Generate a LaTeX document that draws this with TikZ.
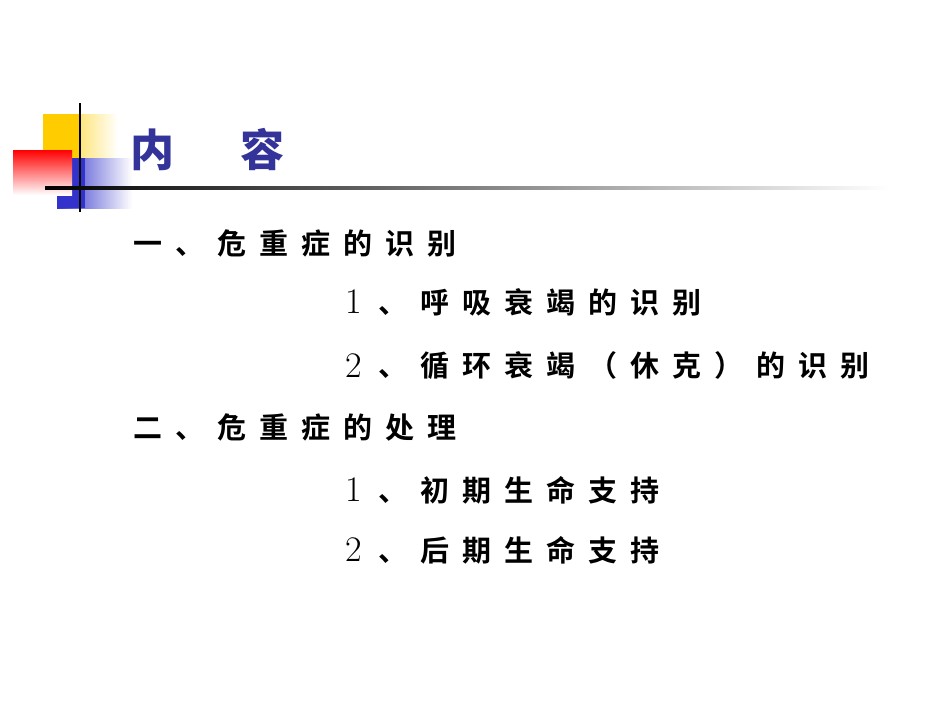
\documentclass[tikz,border=0pt]{standalone}
\usepackage{fontspec}
\newfontfamily\cjk[LetterSpace=45]{Noto Sans CJK SC Bold}
\newfontfamily\cjkb{Noto Sans CJK SC Black}
\definecolor{yel}{RGB}{255,204,0}
\definecolor{blu}{RGB}{51,51,204}
\definecolor{tit}{RGB}{51,51,153}
\begin{document}
\begin{tikzpicture}[x=1pt,y=-1pt,
  item/.style={anchor=west,inner sep=0pt,font=\cjk\fontsize{29}{29}\selectfont},
  num/.style={anchor=west,inner sep=0pt,font=\fontsize{36}{36}\selectfont}]
\useasboundingbox (0,0) rectangle (950,713);
\fill[white] (0,0) rectangle (950,713);
\shade[left color=yel,right color=white] (43,114) rectangle (118,160);
\fill[yel] (43,114) rectangle (80,160);
\shade[left color=blu,right color=white] (57,158) rectangle (132,208);
\fill[blu] (57,158) rectangle (85,208);
\shade[shading angle=45,top color=red,bottom color=white] (13,150) rectangle (72,195);
\draw[line width=2.5pt] (80,103) -- (80,212);
\shade[left color=black,right color=white] (45,186) rectangle (890,189);
\node[anchor=west,inner sep=0pt,text=tit,font=\cjkb\fontsize{44}{44}\selectfont] (t) at (130,150) {内\hspace{1.5em}容};
\node[item] (a) at (133,243) {一、危重症的识别};
\node[num] (a1n) at (345,302) {1};
\node[item] (a1) at (378,302) {、呼吸衰竭的识别};
\node[num] (a2n) at (345,366) {2};
\node[item] (a2) at (378,366) {、循环衰竭（休克）的识别};
\node[item] (b) at (133,427) {二、危重症的处理};
\node[num] (b1n) at (345,490) {1};
\node[item] (b1) at (378,490) {、初期生命支持};
\node[num] (b2n) at (345,550) {2};
\node[item] (b2) at (378,550) {、后期生命支持};
\end{tikzpicture}
\end{document}
